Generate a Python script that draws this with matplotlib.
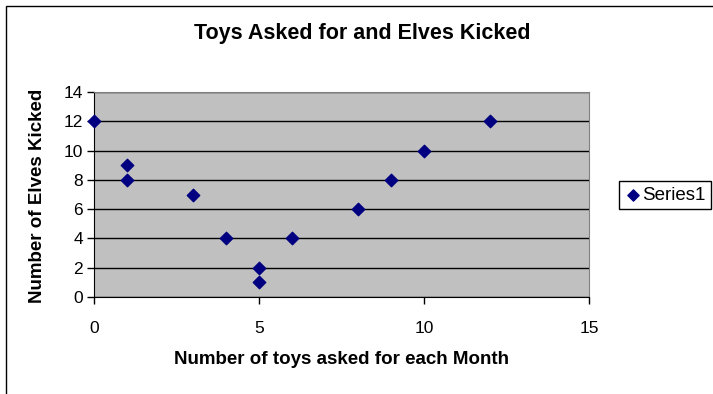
import matplotlib
matplotlib.use("Agg")
from matplotlib import pyplot as plt
from matplotlib.patches import Rectangle

toys = [0, 1, 1, 3, 4, 5, 5, 6, 8, 9, 10, 12]
elves = [12, 9, 8, 7, 4, 2, 1, 4, 6, 8, 10, 12]
x_ticks = [0, 5, 10, 15]
y_ticks = [0, 2, 4, 6, 8, 10, 12, 14]

plt.rcParams["font.family"] = ["Liberation Sans", "DejaVu Sans"]

fig = plt.figure(figsize=(7.13, 3.94), dpi=100)
fig.patch.set_facecolor("white")
ax = fig.add_axes([94 / 713, 1 - 297 / 394, 495 / 713, 205 / 394])
ax.set_facecolor("#c0c0c0")

ax.scatter(toys, elves, marker="D", s=40, color="#000080", zorder=3,
           clip_on=False, label="Series1")

ax.set_xlim(0, 15)
ax.set_ylim(0, 14)
ax.set_xticks(x_ticks)
ax.set_yticks(y_ticks)
ax.yaxis.grid(True, color="black", linewidth=1)
ax.set_axisbelow(True)

for side in ["top", "right"]:
    ax.spines[side].set_color("#808080")
for side in ["left", "bottom"]:
    ax.spines[side].set_color("black")
ax.tick_params(axis="both", direction="out", length=5, width=1, labelsize=12.5)
ax.tick_params(axis="x", pad=12)
ax.tick_params(axis="y", pad=3)

fig.text(362 / 713, 1 - 33 / 394, "Toys Asked for and Elves Kicked",
         ha="center", va="center", fontsize=15.5, fontweight="bold")
fig.text(342 / 713, 1 - 359 / 394, "Number of toys asked for each Month",
         ha="center", va="center", fontsize=13.5, fontweight="bold")
fig.text(38 / 713, 1 - 196 / 394, "Number of Elves Kicked", rotation=90,
         ha="center", va="center", fontsize=13.5, fontweight="bold")

leg = fig.legend(loc="center left", bbox_to_anchor=(619 / 713, 1 - 195 / 394),
                 fancybox=False, edgecolor="black", framealpha=1,
                 fontsize=13.5, handletextpad=0.05, handlelength=0.9,
                 borderpad=0.3, borderaxespad=0, markerscale=0.9)
leg.get_frame().set_linewidth(1)

fig.patches.append(Rectangle((5.5 / 713, -0.1), 1.2, 1.1 - 6.5 / 394,
                             transform=fig.transFigure, fill=False,
                             edgecolor="black", linewidth=1))

fig.savefig("out.png", dpi=100)
